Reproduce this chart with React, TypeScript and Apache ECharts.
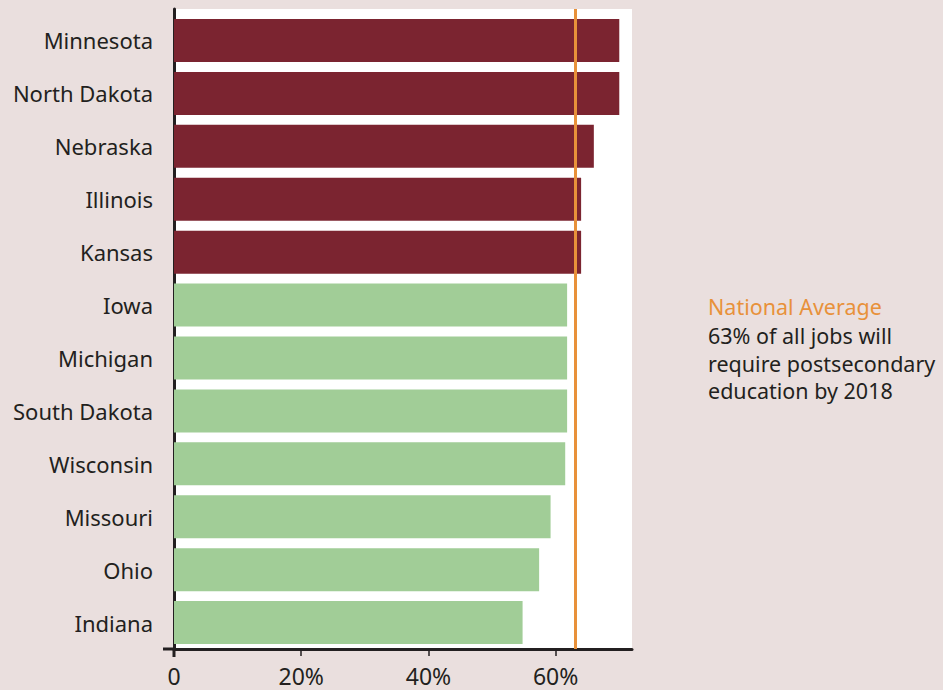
import React, { useEffect, useRef } from "react";
import * as echarts from "echarts";

const states = [
  "Minnesota",
  "North Dakota",
  "Nebraska",
  "Illinois",
  "Kansas",
  "Iowa",
  "Michigan",
  "South Dakota",
  "Wisconsin",
  "Missouri",
  "Ohio",
  "Indiana",
];
const shares = [70, 70, 66, 64, 64, 61.8, 61.8, 61.8, 61.5, 59.2, 57.4, 54.8];
const aboveAverage = [true, true, true, true, true, false, false, false, false, false, false, false];
const nationalAverage = 63;
const tickValues = [0, 20, 40, 60];
const noteTitle = "National Average";
const noteLines = ["63% of all jobs will", "require postsecondary", "education by 2018"];

const MAROON = "#7B2430";
const GREEN = "#A1CD97";
const ORANGE = "#E8913A";
const INK = "#231F20";
const BG = "#EADFDE";
const FONT = "'Noto Sans', 'Open Sans', sans-serif";

export default function App() {
  const ref = useRef<HTMLDivElement>(null);
  useEffect(() => {
    if (!ref.current) return;
    document.body.style.margin = "0";
    const chart = echarts.init(ref.current, null, { renderer: "svg" });
    chart.setOption({
      animation: false,
      backgroundColor: BG,
      textStyle: { fontFamily: FONT },
      grid: [
        { left: 174, right: 311, top: 9, bottom: 41, show: true, backgroundColor: "#ffffff", borderWidth: 0 },
        { left: 174, right: 311, top: 14, bottom: 41 },
      ],
      xAxis: [
        {
          type: "value",
          gridIndex: 0,
          min: 0,
          max: 72,
          interval: 20,
          splitLine: { show: false },
          axisLine: { show: true, lineStyle: { color: INK, width: 3 } },
          axisTick: {
            show: true,
            length: 7,
            lineStyle: { color: INK, width: 1.5 },
            customValues: tickValues,
          },
          axisLabel: {
            color: INK,
            fontSize: 23,
            fontFamily: FONT,
            margin: 15,
            customValues: tickValues,
            formatter: (v: number) => (v === 0 ? "0" : v + "%"),
          },
        },
        {
          type: "value",
          gridIndex: 1,
          min: 0,
          max: 72,
          show: false,
        },
      ],
      yAxis: [
        {
          type: "value",
          gridIndex: 0,
          min: 0,
          max: 1,
          axisLine: { show: true, onZero: false, lineStyle: { color: INK, width: 3 } },
          axisTick: { show: false },
          axisLabel: { show: false },
          splitLine: { show: false },
        },
        {
          type: "category",
          gridIndex: 1,
          data: states,
          inverse: true,
          axisLine: { show: false },
          axisTick: { show: false },
          axisLabel: {
            color: INK,
            fontSize: 22,
            fontFamily: FONT,
            margin: 21,
            padding: [0, 0, 4, 0],
          },
        },
      ],
      series: [
        {
          type: "bar",
          xAxisIndex: 1,
          yAxisIndex: 1,
          barWidth: 43,
          data: shares.map((v, i) => ({
            value: v,
            itemStyle: { color: aboveAverage[i] ? MAROON : GREEN },
          })),
          z: 2,
        },
        {
          type: "line",
          xAxisIndex: 0,
          yAxisIndex: 0,
          data: [],
          markLine: {
            silent: true,
            symbol: "none",
            label: { show: false },
            lineStyle: { color: ORANGE, width: 3, type: "solid" },
            data: [{ xAxis: nationalAverage }],
          },
          z: 3,
        },
      ],
      graphic: [
        {
          type: "line",
          shape: { x1: 163, y1: 649, x2: 175, y2: 649 },
          style: { stroke: INK, lineWidth: 3 },
          z: 10,
        },
        {
          type: "line",
          shape: { x1: 174, y1: 649, x2: 174, y2: 657 },
          style: { stroke: INK, lineWidth: 3 },
          z: 10,
        },
        {
          type: "text",
          left: 708,
          top: 295,
          style: { text: noteTitle, fill: ORANGE, font: `21.5px ${FONT}` },
        },
        {
          type: "text",
          left: 708,
          top: 322,
          style: {
            text: noteLines.join("\n"),
            fill: INK,
            font: `21.5px ${FONT}`,
            lineHeight: 27.5,
          },
        },
      ],
    });
    return () => chart.dispose();
  }, []);
  return <div ref={ref} style={{ position: "fixed", left: 0, top: 0, width: 943, height: 690 }} />;
}
